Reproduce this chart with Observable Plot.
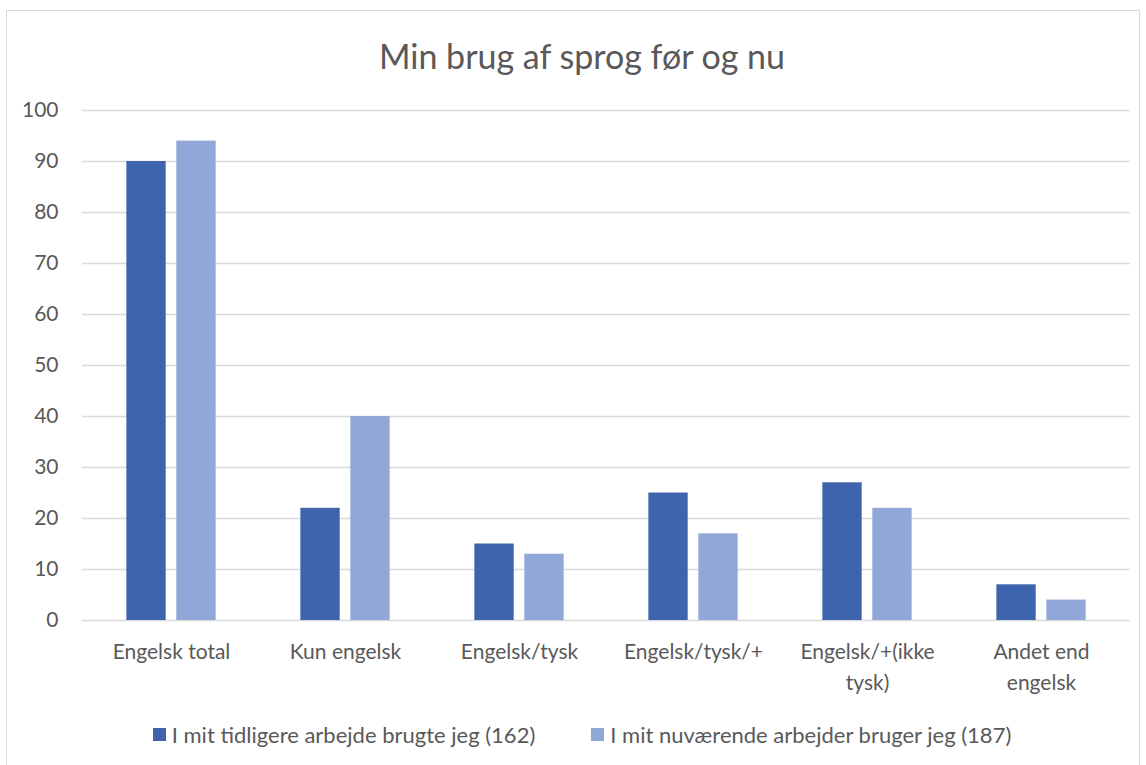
<!DOCTYPE html>
<html><head><meta charset="utf-8">
<script src="https://cdn.jsdelivr.net/npm/d3@7"></script>
<script src="https://cdn.jsdelivr.net/npm/@observablehq/plot@0.6"></script>
<style>
body{margin:0;background:#fff;font-family:Lato,"Open Sans",sans-serif;}
#frame{position:absolute;left:6px;top:10px;width:1132px;height:770px;border:1.5px solid #d9d9d9;border-bottom:none;}
#title{position:absolute;left:0;top:35px;width:1164px;text-align:center;font-size:34px;color:#595959;}
#chart{position:absolute;left:0;top:90px;}
#legend{position:absolute;left:0;top:719px;width:1164px;text-align:center;font-size:22px;color:#595959;}
.li{display:inline-flex;align-items:center;margin:0 28px;}
.sw{display:inline-block;width:13px;height:13px;margin-right:6px;}
</style></head><body>
<div id="frame"></div>
<div id="title">Min brug af sprog før og nu</div>
<div id="chart"></div>
<div id="legend"></div>
<script>
const categories = ["Engelsk total","Kun engelsk","Engelsk/tysk","Engelsk/tysk/+","Engelsk/+(ikke tysk)","Andet end engelsk"];
const categoryLabels = ["Engelsk total","Kun engelsk","Engelsk/tysk","Engelsk/tysk/+","Engelsk/+(ikke\ntysk)","Andet end\nengelsk"];
const seriesNames = ["I mit tidligere arbejde brugte jeg (162)","I mit nuværende arbejder bruger jeg (187)"];
const before = [90,22,15,25,27,7];
const now = [94,40,13,17,22,4];
const colors = ["#3F64AE","#91A7D8"];
const yTicks = [0,10,20,30,40,50,60,70,80,90,100];

const width = 1146, ml = 82, mr = 16;
const bw = (width - ml - mr) / categories.length;
const barW = bw * 0.229, gap = bw * 0.057;
const side = (bw - 2*barW - gap) / 2;

const d1 = categories.map((c,i)=>({c, v: before[i]}));
const d2 = categories.map((c,i)=>({c, v: now[i]}));
const labelOf = Object.fromEntries(categories.map((c,i)=>[c, categoryLabels[i]]));

const plot = Plot.plot({
  width, height: 605,
  marginLeft: ml, marginRight: mr, marginTop: 20, marginBottom: 75,
  style: {fontFamily: "Lato, sans-serif", color: "#595959", background: "transparent"},
  x: {domain: categories, padding: 0},
  y: {domain: [0,100]},
  marks: [
    Plot.ruleY(yTicks, {stroke: "#d9d9d9", strokeWidth: 1.3, strokeOpacity: 1}),
    Plot.barY(d1, {x: "c", y: "v", fill: colors[0], insetLeft: side, insetRight: side + barW + gap}),
    Plot.barY(d2, {x: "c", y: "v", fill: colors[1], insetLeft: side + barW + gap, insetRight: side}),
    Plot.axisY({ticks: yTicks, tickSize: 0, tickPadding: 24, label: null, fontSize: 21, fill: "#595959"}),
    Plot.axisX({tickSize: 0, tickPadding: 17, label: null, fontSize: 21, lineHeight: 1.45, fill: "#595959", tickFormat: d => labelOf[d]})
  ]
});
document.getElementById("chart").appendChild(plot);

const lg = document.getElementById("legend");
seriesNames.forEach((s,i)=>{
  const sp = document.createElement("span"); sp.className="li";
  sp.innerHTML = `<span class="sw" style="background:${colors[i]}"></span>${s}`;
  lg.appendChild(sp);
});
</script>
</body></html>
